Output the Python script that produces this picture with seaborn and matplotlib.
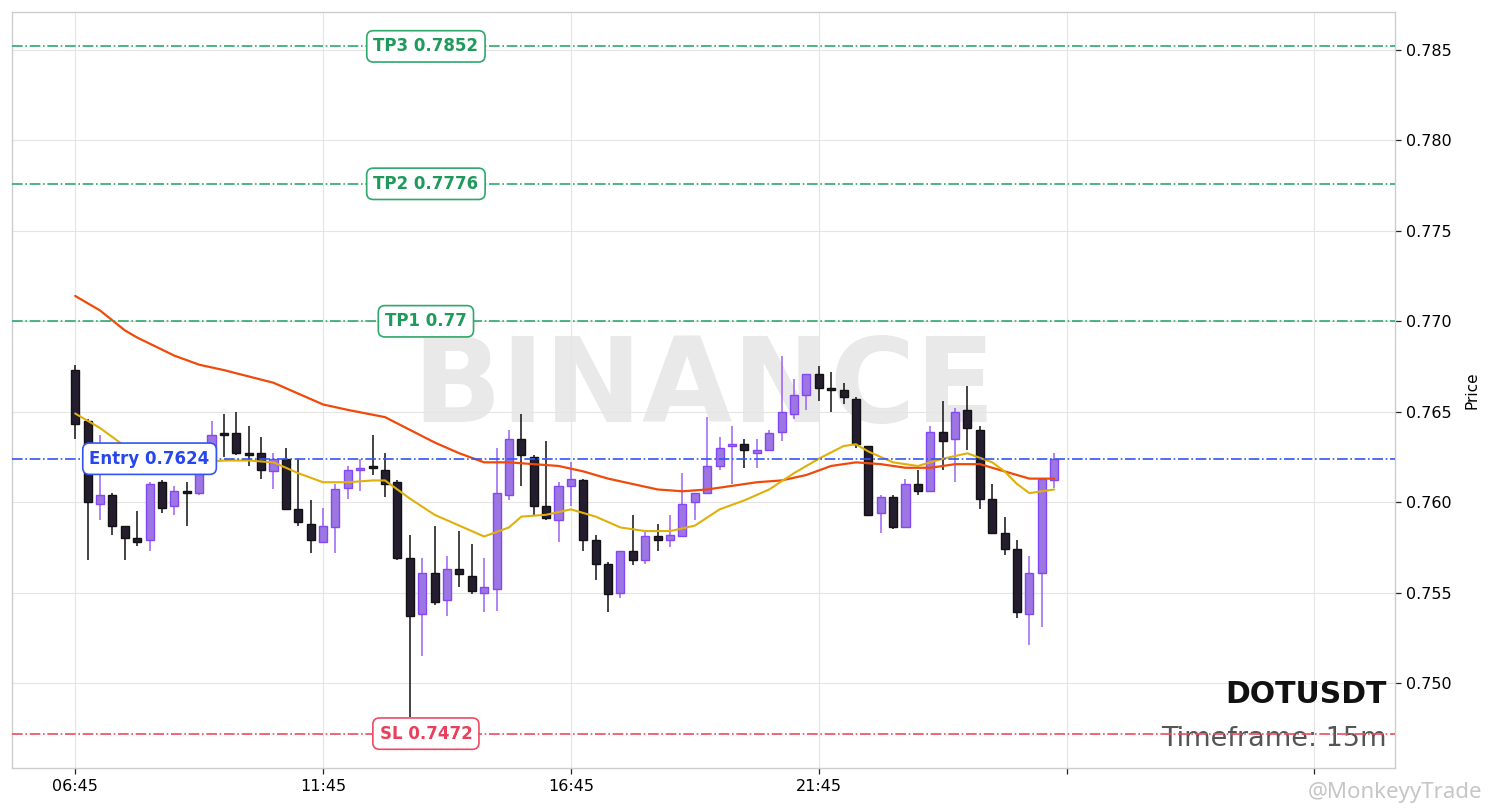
import numpy as np
import pandas as pd
import matplotlib
matplotlib.use("Agg")
import matplotlib.pyplot as plt
import seaborn as sns

# chart meta
symbol = "DOTUSDT"
timeframe = "15m"
first_bar = "2024-01-01 06:45"

# OHLC of the 15m candles
opens = [0.7673, 0.7645, 0.7599, 0.7604, 0.7587, 0.7580, 0.7579, 0.7611, 0.7598, 0.7606,
         0.7605, 0.7622, 0.7638, 0.7638, 0.7627, 0.7627, 0.7617, 0.7624, 0.7596, 0.7588,
         0.7578, 0.7586, 0.7608, 0.7618, 0.7620, 0.7618, 0.7611, 0.7569, 0.7538, 0.7561,
         0.7546, 0.7563, 0.7559, 0.7550, 0.7552, 0.7604, 0.7635, 0.7625, 0.7598, 0.7590,
         0.7609, 0.7612, 0.7579, 0.7566, 0.7550, 0.7573, 0.7568, 0.7581, 0.7579, 0.7581,
         0.7600, 0.7605, 0.7620, 0.7631, 0.7632, 0.7627, 0.7629, 0.7639, 0.7649, 0.7659,
         0.7671, 0.7663, 0.7662, 0.7657, 0.7631, 0.7594, 0.7603, 0.7586, 0.7610, 0.7606,
         0.7639, 0.7635, 0.7651, 0.7640, 0.7602, 0.7583, 0.7574, 0.7538, 0.7561, 0.7612]
highs = [0.7676, 0.7646, 0.7637, 0.7605, 0.7587, 0.7595, 0.7611, 0.7612, 0.7609, 0.7611,
         0.7624, 0.7645, 0.7649, 0.7650, 0.7642, 0.7636, 0.7627, 0.7630, 0.7624, 0.7601,
         0.7597, 0.7610, 0.7620, 0.7624, 0.7637, 0.7627, 0.7612, 0.7582, 0.7569, 0.7587,
         0.7570, 0.7584, 0.7577, 0.7569, 0.7630, 0.7640, 0.7649, 0.7626, 0.7634, 0.7611,
         0.7622, 0.7613, 0.7582, 0.7567, 0.7573, 0.7593, 0.7584, 0.7588, 0.7593, 0.7616,
         0.7605, 0.7647, 0.7636, 0.7642, 0.7635, 0.7635, 0.7640, 0.7681, 0.7668, 0.7671,
         0.7675, 0.7672, 0.7666, 0.7658, 0.7631, 0.7604, 0.7604, 0.7613, 0.7618, 0.7642,
         0.7656, 0.7652, 0.7664, 0.7642, 0.7610, 0.7592, 0.7579, 0.7570, 0.7613, 0.7627]
lows = [0.7635, 0.7568, 0.7590, 0.7582, 0.7568, 0.7576, 0.7573, 0.7594, 0.7593, 0.7587,
        0.7604, 0.7620, 0.7625, 0.7626, 0.7620, 0.7613, 0.7607, 0.7596, 0.7587, 0.7572,
        0.7578, 0.7572, 0.7602, 0.7606, 0.7615, 0.7603, 0.7568, 0.7481, 0.7515, 0.7543,
        0.7537, 0.7553, 0.7549, 0.7539, 0.7540, 0.7601, 0.7609, 0.7593, 0.7590, 0.7578,
        0.7598, 0.7573, 0.7557, 0.7539, 0.7547, 0.7565, 0.7566, 0.7573, 0.7575, 0.7581,
        0.7590, 0.7605, 0.7618, 0.7610, 0.7619, 0.7619, 0.7628, 0.7634, 0.7646, 0.7651,
        0.7656, 0.7650, 0.7654, 0.7630, 0.7593, 0.7583, 0.7585, 0.7586, 0.7604, 0.7606,
        0.7618, 0.7611, 0.7629, 0.7596, 0.7583, 0.7571, 0.7536, 0.7521, 0.7531, 0.7608]
closes = [0.7643, 0.7600, 0.7604, 0.7587, 0.7580, 0.7578, 0.7610, 0.7597, 0.7606, 0.7605,
          0.7622, 0.7637, 0.7637, 0.7627, 0.7626, 0.7618, 0.7624, 0.7596, 0.7589, 0.7579,
          0.7587, 0.7607, 0.7618, 0.7619, 0.7619, 0.7610, 0.7569, 0.7537, 0.7561, 0.7545,
          0.7563, 0.7560, 0.7551, 0.7553, 0.7605, 0.7635, 0.7626, 0.7598, 0.7591, 0.7609,
          0.7613, 0.7579, 0.7566, 0.7549, 0.7573, 0.7568, 0.7581, 0.7579, 0.7582, 0.7599,
          0.7605, 0.7620, 0.7630, 0.7632, 0.7629, 0.7629, 0.7638, 0.7650, 0.7659, 0.7671,
          0.7663, 0.7662, 0.7658, 0.7632, 0.7593, 0.7603, 0.7586, 0.7610, 0.7606, 0.7639,
          0.7634, 0.7650, 0.7641, 0.7602, 0.7583, 0.7574, 0.7539, 0.7561, 0.7613, 0.7624]

# moving averages (bar index, value)
fast_idx = [0, 2, 3, 5, 7, 10, 12, 14, 16, 18, 20, 22, 24, 25, 27, 29, 31, 33, 35, 36,
            38, 40, 42, 44, 46, 48, 50, 52, 54, 56, 58, 60, 62, 63, 64, 66, 68, 70, 72,
            74, 75, 76, 77, 79]
fast_ma = [0.7649, 0.7641, 0.7636, 0.7626, 0.7623, 0.7622, 0.7623, 0.7623, 0.7622, 0.7616,
           0.7611, 0.7611, 0.7612, 0.7612, 0.7602, 0.7593, 0.7587, 0.7581, 0.7586, 0.7592,
           0.7593, 0.7596, 0.7592, 0.7586, 0.7584, 0.7584, 0.7587, 0.7596, 0.7601, 0.7607,
           0.7616, 0.7624, 0.7631, 0.7632, 0.7628, 0.7622, 0.7620, 0.7624, 0.7627, 0.7622,
           0.7617, 0.7610, 0.7605, 0.7607]
slow_idx = [0, 2, 4, 5, 8, 10, 12, 16, 18, 20, 22, 25, 27, 29, 31, 33, 35, 37, 39, 41,
            43, 45, 47, 49, 51, 53, 55, 57, 59, 61, 63, 65, 67, 69, 71, 73, 75, 77, 79]
slow_ma = [0.7714, 0.7706, 0.7695, 0.7691, 0.7681, 0.7676, 0.7673, 0.7666, 0.7660, 0.7654,
           0.7651, 0.7647, 0.7640, 0.7633, 0.7627, 0.7622, 0.7622, 0.7621, 0.7620, 0.7617,
           0.7613, 0.7610, 0.7607, 0.7606, 0.7607, 0.7609, 0.7611, 0.7612, 0.7615, 0.7620,
           0.7622, 0.7621, 0.7619, 0.7619, 0.7621, 0.7621, 0.7617, 0.7613, 0.7613]

# trade levels
entry = 0.7624
stop_loss = 0.7472
tp_names = ["TP1", "TP2", "TP3"]
tp_levels = [0.77, 0.7776, 0.7852]

sns.set_theme(style="whitegrid")
plt.rcParams['font.family'] = ['DejaVu Sans']

df = pd.DataFrame({"open": opens, "high": highs, "low": lows, "close": closes})
df["time"] = pd.date_range(first_bar, periods=len(df), freq="15min")
df["idx"] = np.arange(len(df))
up = df["close"] >= df["open"]
dn = ~up

fig = plt.figure(figsize=(14.9, 8.08), dpi=100)
ax = fig.add_axes([12 / 1490, 40 / 808, 1383 / 1490, 756 / 808])

# watermark
ax.text(0.5, 0.5, "BINANCE", transform=ax.transAxes, fontsize=84, fontweight="bold",
        color="#e9e9e9", ha="center", va="center", zorder=0)

# candles
w = 0.65
ax.vlines(df["idx"][dn], df["low"][dn], df["high"][dn], color="#111111", lw=1.1, zorder=2)
ax.vlines(df["idx"][up], df["low"][up], df["high"][up], color="#9a62f2", lw=1.1, zorder=2)
ax.bar(df["idx"][dn], df["close"][dn] - df["open"][dn], bottom=df["open"][dn], width=w,
       color="#241d30", edgecolor="#111111", lw=1, zorder=3)
ax.bar(df["idx"][up], df["close"][up] - df["open"][up], bottom=df["open"][up], width=w,
       color="#9c76e2", edgecolor="#8447f5", lw=1, zorder=3)

# moving averages
sns.lineplot(x=slow_idx, y=slow_ma, ax=ax, color="#f04a0a", lw=1.6, sort=False, zorder=4)
sns.lineplot(x=fast_idx, y=fast_ma, ax=ax, color="#e0b00a", lw=1.5, sort=False, zorder=4)

# trade levels
green = "#2ea86b"
for name, lvl in zip(tp_names, tp_levels):
    ax.axhline(lvl, color=green, ls="-.", lw=1.2, zorder=5)
    ax.text(28.3, lvl, f"{name} {lvl}", ha="center", va="center", fontsize=12,
            fontweight="bold", color="#1f9a5c", zorder=6,
            bbox=dict(boxstyle="round,pad=0.4", fc="white", ec=green, lw=1.2))
ax.axhline(entry, color="#3355f5", ls="-.", lw=1.2, zorder=5)
ax.text(6, entry, f"Entry {entry}", ha="center", va="center", fontsize=12,
        fontweight="bold", color="#2646ee", zorder=6,
        bbox=dict(boxstyle="round,pad=0.4", fc="white", ec="#3355f5", lw=1.2))
ax.axhline(stop_loss, color="#ef4a63", ls="-.", lw=1.2, zorder=5)
ax.text(28.3, stop_loss, f"SL {stop_loss}", ha="center", va="center", fontsize=12,
        fontweight="bold", color="#ea3f5a", zorder=6,
        bbox=dict(boxstyle="round,pad=0.4", fc="white", ec="#ef4a63", lw=1.2))

# symbol / timeframe
ax.text(0.994, 0.086, symbol, transform=ax.transAxes, ha="right", va="baseline",
        fontsize=21.5, fontweight="bold", color="#111111", zorder=3)
ax.text(0.994, 0.029, f"Timeframe: {timeframe}", transform=ax.transAxes, ha="right",
        va="baseline", fontsize=19.5, color="#555555", zorder=3)

# axes
ax.set_xlim(-5.1, 106.5)
ax.set_ylim(0.7453, 0.7871)
xt = [0, 20, 40, 60, 80, 100]
ax.set_xticks(xt)
ax.set_xticklabels([df["time"][i].strftime("%H:%M") if i < len(df) else "" for i in xt])
yt = np.arange(0.750, 0.7851, 0.005)
ax.set_yticks(yt)
ax.set_yticklabels([f"{v:.3f}" for v in yt])
ax.yaxis.tick_right()
ax.yaxis.set_label_position("right")
ax.set_ylabel("Price", fontsize=11, color="black", labelpad=9)
ax.set_xlabel("")
ax.tick_params(axis="both", which="major", length=4, width=0.9, color="#222222",
               labelsize=11.5, labelcolor="black", bottom=True, right=True, left=False, pad=4)
ax.grid(True, color="#e5e5e5", lw=0.8)
for s in ax.spines.values():
    s.set_color("#cccccc")
    s.set_linewidth(1)

fig.text(0.995, 0.012, "@MonkeyyTrade", ha="right", va="baseline", fontsize=16,
         color="#c6c6c6", family=["Noto Sans", "DejaVu Sans"])

fig.savefig("out.png", dpi=100)
